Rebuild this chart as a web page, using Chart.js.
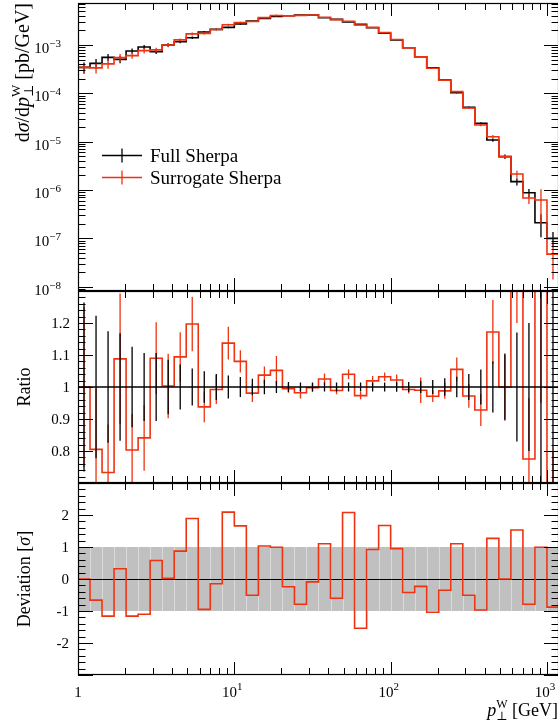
<!DOCTYPE html>
<html>
<head>
<meta charset="utf-8">
<title>W boson pT: Full vs Surrogate Sherpa</title>
<script src="https://cdn.jsdelivr.net/npm/chart.js@4.4.1/dist/chart.umd.min.js"></script>
<style>
    html, body { margin: 0; padding: 0; background: #fff; overflow: hidden; }
    #wrap { position: relative; width: 558px; height: 727px; overflow: hidden; }
    #wrap canvas { position: absolute; left: 0; top: 0; }
</style>
</head>
<body>
<div id="wrap">
    <canvas id="mainChart" width="561" height="727"></canvas>
    <canvas id="ratioChart" width="561" height="727"></canvas>
    <canvas id="devChart" width="561" height="727"></canvas>
</div>
<script>
// ===== Data =====
// bin edges in pT [GeV], 13 log bins per decade
const binEdges = [1, 1.1938, 1.4251, 1.7013, 2.0309, 2.4245, 2.8943, 3.4551, 4.1246, 4.9239,
    5.8780, 7.0170, 8.3768, 10, 11.938, 14.251, 17.013, 20.309, 24.245, 28.943,
    34.551, 41.246, 49.239, 58.780, 70.170, 83.768, 100, 119.38, 142.51, 170.13,
    203.09, 242.45, 289.43, 345.51, 412.46, 492.39, 587.80, 701.70, 837.68, 1000, 1193.8];

// Full Sherpa dsigma/dpT [pb/GeV]
const fullSherpa = [3.45e-4, 4.18e-4, 5.56e-4, 5.05e-4, 7.52e-4, 9.10e-4, 7.28e-4, 1.00e-3, 1.17e-3, 1.42e-3,
    1.86e-3, 2.11e-3, 2.32e-3, 2.72e-3, 3.14e-3, 3.56e-3, 3.89e-3, 4.04e-3, 4.18e-3, 4.18e-3,
    3.67e-3, 3.40e-3, 2.99e-3, 2.68e-3, 2.28e-3, 1.75e-3, 1.27e-3, 8.81e-4, 5.74e-4, 3.40e-4,
    1.89e-4, 1.03e-4, 5.13e-5, 2.39e-5, 1.08e-5, 4.90e-6, 1.49e-6, 8.79e-7, 2.10e-7, 1.00e-7];

// Surrogate / Full ratio (middle panel)
const surrRatio = [1.000, 0.805, 0.733, 1.088, 0.803, 0.841, 1.090, 1.003, 1.094, 1.197,
    0.938, 0.992, 1.137, 1.080, 0.981, 1.037, 1.052, 0.995, 0.982, 0.998,
    1.025, 0.989, 1.040, 0.973, 1.019, 1.032, 1.022, 0.992, 0.990, 0.971,
    0.988, 1.055, 0.972, 0.928, 1.172, 1.000, 1.440, 0.775, 2.950, 0.470];

// relative errors (in units of the Full Sherpa value)
const fullRelErr = [0.264, 0.223, 0.174, 0.168, 0.126, 0.106, 0.106, 0.085, 0.070, 0.058,
    0.049, 0.041, 0.036, 0.031, 0.026, 0.023, 0.019, 0.016, 0.014, 0.014,
    0.014, 0.014, 0.014, 0.014, 0.014, 0.014, 0.015, 0.016, 0.019, 0.022,
    0.027, 0.032, 0.041, 0.055, 0.080, 0.105, 0.170, 0.200, 0.500, 0.350];
const surrRelErr = [0.250, 0.190, 0.150, 0.204, 0.113, 0.103, 0.112, 0.101, 0.077, 0.085,
    0.048, 0.045, 0.051, 0.035, 0.028, 0.027, 0.045, 0.013, 0.018, 0.013,
    0.017, 0.012, 0.015, 0.011, 0.015, 0.013, 0.017, 0.012, 0.040, 0.018,
    0.025, 0.037, 0.037, 0.050, 0.100, 0.100, 0.240, 0.190, 2.000, 0.330];

// deviation in sigma (bottom panel)
const deviation = [0.00, -0.66, -1.16, 0.32, -1.16, -1.10, 0.58, 0.02, 0.87, 1.89,
    -0.95, -0.15, 2.09, 1.66, -0.51, 1.03, 0.99, -0.24, -0.79, -0.09,
    1.10, -0.60, 2.08, -1.54, 0.92, 1.67, 0.95, -0.42, -0.23, -1.04,
    -0.35, 1.10, -0.51, -0.97, 1.27, 0.00, 1.53, -0.79, 0.99, -0.88];

const xTickLabels = [[1, '1', null], [10, '10', '1'], [100, '10', '2'], [1000, '10', '3']];
const mainTickLabels = [[1e-3, '−3'], [1e-4, '−4'], [1e-5, '−5'], [1e-6, '−6'], [1e-7, '−7'], [1e-8, '−8']];
const ratioTickLabels = [[0.8, '0.8'], [0.9, '0.9'], [1, '1'], [1.1, '1.1'], [1.2, '1.2']];
const devTickLabels = [[-2, '-2'], [-1, '-1'], [0, '0'], [1, '1'], [2, '2']];

// ===== Style =====
const SERIF = '"Liberation Serif", "DejaVu Serif", serif';
const RED = '#ee3311';
const W = 561, H = 727, LEFT = 78, RIGHT_PAD = 2;
const fnt = (size, italic) => (italic ? 'italic ' : '') + size + 'px ' + SERIF;

// ===== Helpers =====
function stepPoints(vals) {
    const pts = vals.map((v, k) => ({ x: binEdges[k], y: v }));
    pts.push({ x: binEdges[vals.length], y: vals[vals.length - 1] });
    return pts;
}
function errPoints(vals, errs) {
    const pts = [];
    vals.forEach((v, k) => {
        const c = Math.sqrt(binEdges[k] * binEdges[k + 1]);
        pts.push({ x: c, y: Math.max(v - errs[k], 1e-12) }, { x: c, y: v + errs[k] }, { x: c, y: null });
    });
    return pts;
}
function logTicks(min, max) {
    const out = [];
    for (let d = Math.floor(Math.log10(min)); d <= Math.ceil(Math.log10(max)); d++) {
        for (let m = 1; m <= 9; m++) {
            const v = m * Math.pow(10, d);
            if (v >= min * 0.9999 && v <= max * 1.0001) out.push({ v, major: m === 1 });
        }
    }
    return out;
}
function linTicks(min, max, step, every) {
    const out = [];
    for (let n = Math.ceil(min / step - 1e-6); n <= Math.floor(max / step + 1e-6); n++) {
        out.push({ v: n * step, major: n % every === 0 });
    }
    return out;
}
function runsWidth(ctx, runs) {
    let w = 0;
    runs.forEach(r => { ctx.font = fnt(r.size, r.italic); w += r.adv !== undefined ? r.adv : ctx.measureText(r.t).width; });
    return w;
}
function drawRuns(ctx, runs, x, y) {
    let cx = x;
    runs.forEach(r => {
        ctx.font = fnt(r.size, r.italic);
        ctx.fillText(r.t, cx, y + (r.dy || 0));
        cx += r.adv !== undefined ? r.adv : ctx.measureText(r.t).width;
    });
}
function drawRotated(ctx, runs, baseX, centerY, alignTop) {
    const w = runsWidth(ctx, runs);
    ctx.save();
    ctx.translate(baseX, alignTop !== undefined ? alignTop + w : centerY + w / 2);
    ctx.rotate(-Math.PI / 2);
    drawRuns(ctx, runs, 0, 0);
    ctx.restore();
}
function seg(ctx, x1, y1, x2, y2) {
    ctx.beginPath(); ctx.moveTo(x1, y1); ctx.lineTo(x2, y2); ctx.stroke();
}

const xTicks = logTicks(binEdges[0], binEdges[binEdges.length - 1]);

// frame, inward ticks and labels for one panel
function panelPlugin(cfg) {
    return {
        id: 'panel',
        beforeDatasetsDraw(chart) {
            if (cfg.before) cfg.before(chart);
        },
        afterDatasetsDraw(chart) {
            const { ctx, chartArea: a, scales } = chart;
            ctx.save();
            ctx.strokeStyle = '#000';
            ctx.lineWidth = 1;
            xTicks.forEach(t => {
                const px = Math.round(scales.x.getPixelForValue(t.v)) + 0.5;
                const len = t.major ? 13 : 7;
                seg(ctx, px, a.top, px, a.top + len);
                seg(ctx, px, a.bottom, px, a.bottom - len);
            });
            cfg.yTicks.forEach(t => {
                const py = Math.round(scales.y.getPixelForValue(t.v)) + 0.5;
                const len = t.major ? 15 : 7.5;
                seg(ctx, a.left, py, a.left + len, py);
                seg(ctx, a.right, py, a.right - len, py);
            });
            ctx.lineWidth = 1.2;
            ctx.strokeRect(a.left + 0.5, a.top + 0.5, a.right - a.left - 1, a.bottom - a.top - 1);
            ctx.restore();
        },
        afterDraw(chart) {
            const { ctx, scales } = chart;
            ctx.save();
            ctx.fillStyle = '#000';
            ctx.textBaseline = 'alphabetic';
            if (cfg.labels) cfg.labels(ctx, scales);
            ctx.restore();
        }
    };
}

function baseOptions(pad, yScale) {
    return {
        responsive: false,
        animation: false,
        events: [],
        layout: { padding: pad },
        plugins: { legend: { display: false }, tooltip: { enabled: false } },
        elements: { point: { radius: 0 }, line: { tension: 0 } },
        scales: {
            x: { type: 'logarithmic', min: binEdges[0], max: binEdges[binEdges.length - 1], display: false },
            y: Object.assign({ display: false }, yScale)
        }
    };
}

// ===== Main panel =====
const surrSherpa = fullSherpa.map((v, k) => v * surrRatio[k]);
const fullAbsErr = fullSherpa.map((v, k) => v * fullRelErr[k]);
const surrAbsErr = fullSherpa.map((v, k) => v * surrRelErr[k]);
const yMainMin = Math.pow(10, -8.09), yMainMax = Math.pow(10, -2.13);

new Chart(document.getElementById('mainChart'), {
    type: 'line',
    data: {
        datasets: [
            { label: 'Surrogate Sherpa', data: stepPoints(surrSherpa), stepped: true, borderColor: RED, borderWidth: 1.6, order: 0 },
            { label: 'Surrogate err', data: errPoints(surrSherpa, surrAbsErr), borderColor: RED, borderWidth: 1.3, order: 1 },
            { label: 'Full Sherpa', data: stepPoints(fullSherpa), stepped: true, borderColor: '#000', borderWidth: 1.6, order: 2 },
            { label: 'Full err', data: errPoints(fullSherpa, fullAbsErr), borderColor: '#000', borderWidth: 1.3, order: 3 }
        ]
    },
    options: baseOptions({ left: LEFT, right: RIGHT_PAD, top: 3, bottom: H - 291 },
        { type: 'logarithmic', min: yMainMin, max: yMainMax }),
    plugins: [panelPlugin({
        yTicks: logTicks(yMainMin, yMainMax),
        labels(ctx, scales) {
            mainTickLabels.forEach(([v, e]) => {
                const py = scales.y.getPixelForValue(v);
                const runs = [{ t: '10', size: 15 }, { t: e, size: 11, dy: -6 }];
                drawRuns(ctx, runs, 61 - runsWidth(ctx, runs), py + 8);
            });
            drawRotated(ctx, [
                { t: 'd', size: 20 }, { t: 'σ', size: 20, italic: true }, { t: '/d', size: 20 },
                { t: 'p', size: 20, italic: true }, { t: '⊥', size: 13, dy: 4, adv: 0 }, { t: 'W', size: 13, dy: -9 },
                { t: ' [pb/GeV]', size: 20 }
            ], 29, 0, 3);
            // legend
            [['#000', 'Full Sherpa', 155.5], [RED, 'Surrogate Sherpa', 177.5]].forEach(([col, txt, y]) => {
                ctx.strokeStyle = col;
                ctx.lineWidth = 1.6;
                seg(ctx, 102, y, 142, y);
                ctx.lineWidth = 1.3;
                seg(ctx, 122, y - 7, 122, y + 7);
                ctx.font = fnt(19);
                ctx.fillText(txt, 150, y + 6);
            });
        }
    })]
});

// ===== Ratio panel =====
const ones = fullSherpa.map(() => 1);
new Chart(document.getElementById('ratioChart'), {
    type: 'line',
    data: {
        datasets: [
            { label: 'Full err', data: errPoints(ones, fullRelErr), borderColor: '#000', borderWidth: 1.3, order: 0 },
            { label: 'Full Sherpa', data: stepPoints(ones), stepped: true, borderColor: '#000', borderWidth: 1.6, order: 1 },
            { label: 'Surrogate err', data: errPoints(surrRatio, surrRelErr), borderColor: RED, borderWidth: 1.3, order: 2 },
            { label: 'Surrogate Sherpa', data: stepPoints(surrRatio), stepped: true, borderColor: RED, borderWidth: 1.6, order: 3 }
        ]
    },
    options: baseOptions({ left: LEFT, right: RIGHT_PAD, top: 291, bottom: H - 483 },
        { type: 'linear', min: 0.7, max: 1.3 }),
    plugins: [panelPlugin({
        yTicks: linTicks(0.7, 1.3, 0.02, 5),
        labels(ctx, scales) {
            ctx.font = fnt(15);
            ctx.textAlign = 'right';
            ctx.textBaseline = 'middle';
            ratioTickLabels.forEach(([v, s]) => ctx.fillText(s, 70, scales.y.getPixelForValue(v) + 1));
            ctx.textAlign = 'left';
            ctx.textBaseline = 'alphabetic';
            drawRotated(ctx, [{ t: 'Ratio', size: 18 }], 30, scales.y.getPixelForValue(1));
        }
    })]
});

// ===== Deviation panel =====
new Chart(document.getElementById('devChart'), {
    type: 'line',
    data: {
        datasets: [
            { label: 'Deviation', data: stepPoints(deviation), stepped: true, borderColor: RED, borderWidth: 1.6 }
        ]
    },
    options: baseOptions({ left: LEFT, right: RIGHT_PAD, top: 483, bottom: H - 675 },
        { type: 'linear', min: -3, max: 3 }),
    plugins: [panelPlugin({
        yTicks: linTicks(-3, 3, 0.2, 5),
        before(chart) {
            const { ctx, chartArea: a, scales } = chart;
            const y1 = scales.y.getPixelForValue(1), y0 = scales.y.getPixelForValue(-1);
            ctx.save();
            ctx.fillStyle = '#c0c0c0';
            ctx.fillRect(a.left, y1, a.right - a.left, y0 - y1);
            ctx.strokeStyle = '#dadada';
            ctx.lineWidth = 1;
            binEdges.slice(1, -1).forEach(e => {
                const px = Math.round(scales.x.getPixelForValue(e)) + 0.5;
                seg(ctx, px, y1, px, y0);
            });
            ctx.strokeStyle = '#000';
            const yz = Math.round(scales.y.getPixelForValue(0)) + 0.5;
            seg(ctx, a.left, yz, a.right, yz);
            ctx.restore();
        },
        labels(ctx, scales) {
            ctx.font = fnt(15);
            ctx.textAlign = 'right';
            ctx.textBaseline = 'middle';
            devTickLabels.forEach(([v, s]) => ctx.fillText(s, 69, scales.y.getPixelForValue(v) + 1));
            ctx.textAlign = 'left';
            ctx.textBaseline = 'alphabetic';
            drawRotated(ctx, [{ t: 'Deviation [', size: 18 }, { t: 'σ', size: 18, italic: true }, { t: ']', size: 18 }],
                30, scales.y.getPixelForValue(0));
            // x tick labels
            xTickLabels.forEach(([v, b, e]) => {
                const px = scales.x.getPixelForValue(v);
                const runs = [{ t: b, size: 15 }];
                if (e) runs.push({ t: e, size: 11, dy: -7 });
                drawRuns(ctx, runs, px - runsWidth(ctx, runs) / 2 - (e ? 2 : 0), 697);
            });
            // x axis title, right aligned at the visible edge
            const title = [
                { t: 'p', size: 18, italic: true }, { t: '⊥', size: 12, dy: 4, adv: 0 }, { t: 'W', size: 12, dy: -8 },
                { t: ' [GeV]', size: 18 }
            ];
            drawRuns(ctx, title, 558 - runsWidth(ctx, title), 716);
        }
    })]
});
</script>
</body>
</html>
